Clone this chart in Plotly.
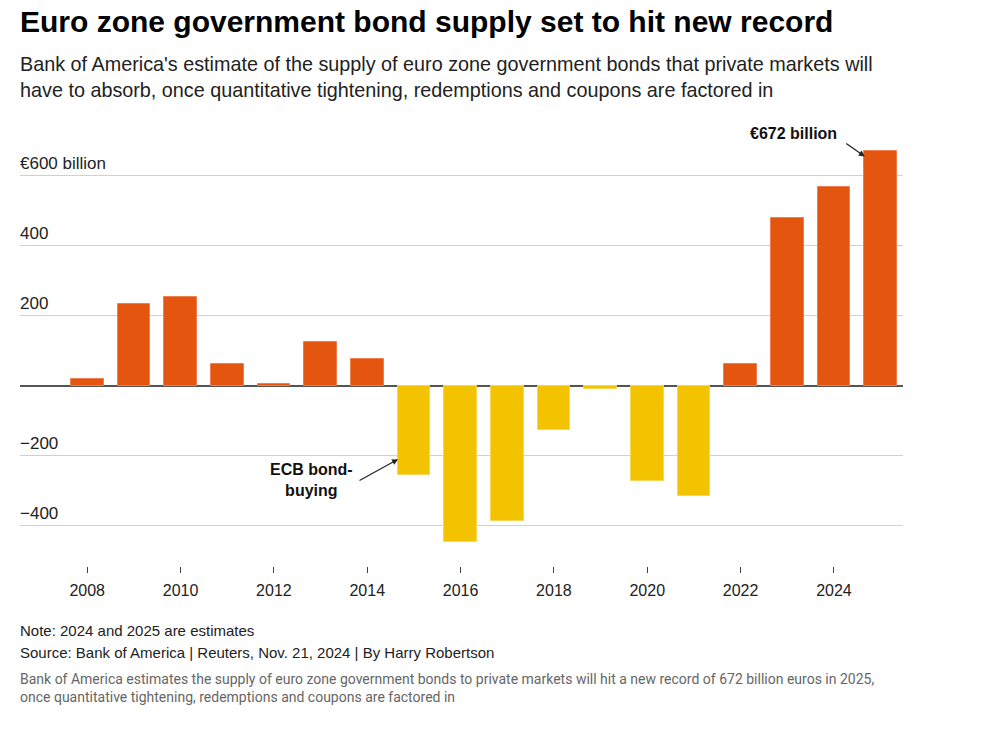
import plotly.graph_objects as go

years = list(range(2008, 2026))
supply = [20, 233, 255, 61, 4, 126, 76, -256, -447, -385, -125, -10, -271, -315, 63, 479, 568, 672]

ytick_vals = [-400, -200, 0, 200, 400, 600]
ytick_text = ["\u2212400", "\u2212200", "", "200", "400", "\u20ac600 billion"]
xtick_vals = list(range(2008, 2025, 2))

ORANGE = "#E4550F"
YELLOW = "#F4C300"
colors = [ORANGE if v >= 0 else YELLOW for v in supply]
edge = ["#EE8050" if v >= 0 else "#F8D65A" for v in supply]

L, R, T, B = 20, 87, 130, 171
W, H = 990, 737
PW, PH = W - L - R, H - T - B


def px(x):
    return (x - L) / PW


def py(y):
    return (H - B - y) / PH


fig = go.Figure()
fig.add_trace(go.Bar(
    x=years, y=supply, width=0.7,
    marker=dict(color=colors, line=dict(color=edge, width=1)),
    hoverinfo="x+y",
))

font = "Liberation Sans, Arial, sans-serif"

fig.update_layout(
    width=W, height=H,
    margin=dict(l=L, r=R, t=T, b=B),
    paper_bgcolor="white", plot_bgcolor="white",
    showlegend=False, bargap=0,
    font=dict(family=font, color="#222"),
    xaxis=dict(
        range=[2006.56, 2025.48],
        tickvals=xtick_vals, ticktext=[str(v) for v in xtick_vals],
        ticks="outside", ticklen=6, tickcolor="#444", tickwidth=1,
        ticklabelstandoff=4,
        showgrid=False, showline=False, zeroline=False,
        tickfont=dict(size=16, color="#222", family=font),
    ),
    yaxis=dict(
        range=[-515, 730.7],
        tickvals=ytick_vals, showticklabels=False,
        ticks="", showline=False,
        showgrid=True, gridcolor="#d0d0d0", gridwidth=1,
        zeroline=True, zerolinecolor="#555", zerolinewidth=2,
    ),
)

ann = []
for v, t in zip(ytick_vals, ytick_text):
    if t:
        ann.append(dict(xref="paper", yref="y", x=0, y=v, xanchor="left", yanchor="bottom",
                        yshift=1, xshift=-2, text=t, showarrow=False,
                        font=dict(size=17, color="#222", family=font)))
ann.append(dict(xref="paper", yref="paper", x=px(18), y=py(22), xanchor="left", yanchor="middle",
                text="<b>Euro zone government bond supply set to hit new record</b>", showarrow=False,
                font=dict(size=30, color="#000", family=font)))
ann.append(dict(xref="paper", yref="paper", x=px(18), y=py(77), xanchor="left", yanchor="middle",
                text="Bank of America's estimate of the supply of euro zone government bonds that private markets will<br>have to absorb, once quantitative tightening, redemptions and coupons are factored in",
                showarrow=False, align="left",
                font=dict(size=19.8, color="#222", family=font)))
ann.append(dict(xref="paper", yref="paper", x=px(18), y=py(630), xanchor="left", yanchor="middle",
                text="Note: 2024 and 2025 are estimates", showarrow=False,
                font=dict(size=15, color="#222", family=font)))
ann.append(dict(xref="paper", yref="paper", x=px(18), y=py(652), xanchor="left", yanchor="middle",
                text="Source: Bank of America | Reuters, Nov. 21, 2024 | By Harry Robertson", showarrow=False,
                font=dict(size=15, color="#222", family=font)))
ann.append(dict(xref="paper", yref="paper", x=px(18), y=py(688), xanchor="left", yanchor="middle",
                text="Bank of America estimates the supply of euro zone government bonds to private markets will hit a new record of 672 billion euros in 2025,<br>once quantitative tightening, redemptions and coupons are factored in",
                showarrow=False, align="left",
                font=dict(size=14, color="#666", family="Roboto, sans-serif")))
# callouts
ann.append(dict(x=2024.66, y=655, xref="x", yref="y", ax=-20, ay=-14, axref="pixel", ayref="pixel",
                showarrow=True, arrowhead=2, arrowsize=1, arrowwidth=1.2, arrowcolor="#222", text=""))
ann.append(dict(xref="paper", yref="paper", x=px(793), y=py(133), xanchor="center", yanchor="middle",
                text="<b>\u20ac672 billion</b>", showarrow=False,
                font=dict(size=16, color="#111", family=font)))
ann.append(dict(x=2014.66, y=-210, xref="x", yref="y", ax=-40, ay=22, axref="pixel", ayref="pixel",
                showarrow=True, arrowhead=2, arrowsize=1, arrowwidth=1.2, arrowcolor="#222", text=""))
ann.append(dict(xref="paper", yref="paper", x=px(311), y=py(480), xanchor="center", yanchor="middle",
                text="<b>ECB bond-<br>buying</b>", showarrow=False, align="center",
                font=dict(size=16, color="#111", family=font)))
fig.update_layout(annotations=ann)

fig.write_html("out.html")
